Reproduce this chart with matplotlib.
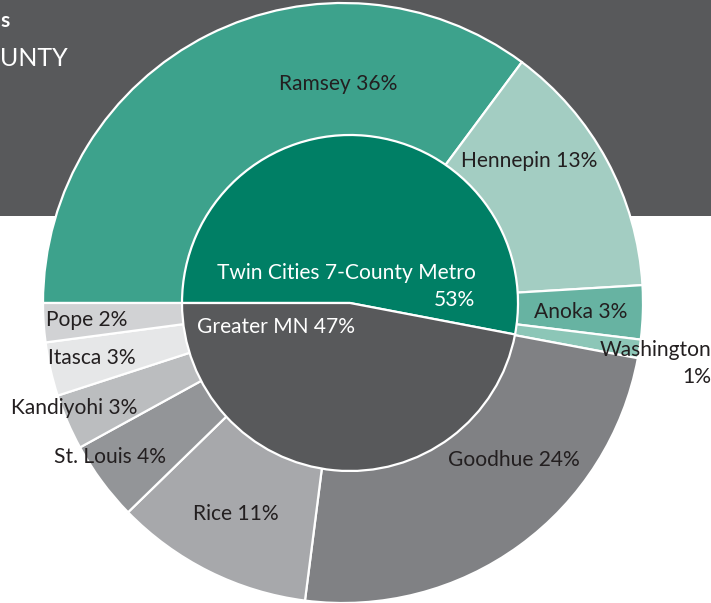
import matplotlib
matplotlib.use("Agg")
import matplotlib.pyplot as plt
from matplotlib.patches import Rectangle

# ---- data ----
inner_labels = ["Twin Cities 7-County Metro\n53%", "Greater MN 47%"]
inner_values = [53, 47]
inner_colors = ["#007f65", "#58595b"]

outer_names = ["Ramsey", "Hennepin", "Anoka", "Washington", "Goodhue",
               "Rice", "St. Louis", "Kandiyohi", "Itasca", "Pope"]
outer_pct_labels = ["36%", "13%", "3%", "1%", "24%", "11%", "4%", "3%", "3%", "2%"]
outer_values = [35.2, 13.9, 2.9, 1.0, 24.1, 10.7, 4.3, 3.0, 2.9, 2.1]
outer_colors = ["#3da28c", "#a3cdc2", "#67b3a2", "#8cc6b7", "#808184",
                "#a7a8ab", "#939598", "#bbbdbf", "#e6e7e8", "#d1d2d4"]

W, H = 711, 603
fig = plt.figure(figsize=(W / 100, H / 100), dpi=100)
ax = fig.add_axes([0, 0, 1, 1])

def px(v):
    return v * 0.72

FONT = "Lato"
WEIGHT = "normal"
TXT = "#231f20"

# dark header band
ax.add_patch(Rectangle((0, H - 216), W, 216, facecolor="#58595b", edgecolor="none", zorder=0))
ax.text(0, H - 21, "s", color="white", fontsize=px(21), fontweight="bold",
        family=FONT, ha="left", va="center", zorder=1)
ax.text(0, H - 58, "UNTY", color="white", fontsize=px(25), family=FONT,
        ha="left", va="center", zorder=1)

# outer ring (full pie, covered by the inner pie)
ax.pie(outer_values, radius=300, center=(343, 300), startangle=180,
       counterclock=False, colors=outer_colors,
       wedgeprops=dict(edgecolor="white", linewidth=1.6), frame=True)
# inner pie
ax.pie(inner_values, radius=168, center=(350, 300), startangle=180,
       counterclock=False, colors=inner_colors,
       wedgeprops=dict(edgecolor="white", linewidth=1.6), frame=True)

fs = px(21)
def lab(x, y, s, color=TXT, ha="center"):
    ax.text(x, H - y, s, color=color, fontsize=fs, family=FONT, fontweight=WEIGHT,
            ha=ha, va="center", zorder=5)

pos = {
    "Ramsey": (338, 84),
    "Hennepin": (529, 161),
    "Anoka": (581, 312),
    "Goodhue": (514, 460),
    "Rice": (236, 514),
    "St. Louis": (110, 457),
    "Kandiyohi": (74, 408),
    "Itasca": (92, 358),
    "Pope": (87, 320),
}
for name, pct in zip(outer_names, outer_pct_labels):
    if name == "Washington":
        lab(711, 350, name, ha="right")
        lab(711, 377, pct, ha="right")
    else:
        x, y = pos[name]
        lab(x, y, f"{name} {pct}")

first, second = inner_labels[0].split("\n")
lab(346, 273, first, color="white")
lab(475, 300, second, color="white", ha="right")
lab(276, 327, inner_labels[1], color="white")

ax.set_xlim(0, W)
ax.set_ylim(0, H)
ax.set_aspect("auto")
ax.axis("off")
fig.savefig("out.png", dpi=100, facecolor="white")
